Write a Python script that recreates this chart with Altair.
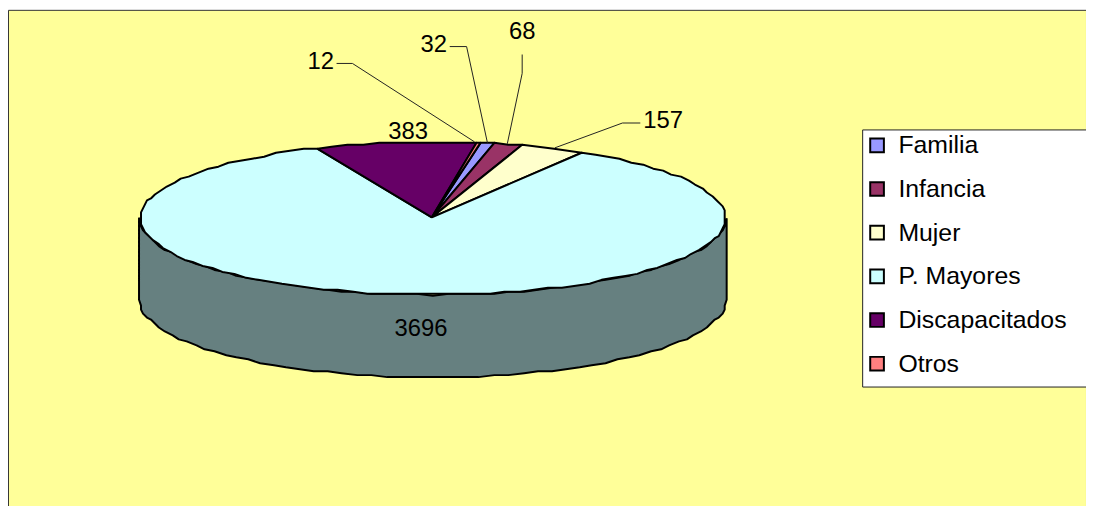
import math
import altair as alt
import pandas as pd

# Data
categories = ["Familia", "Infancia", "Mujer", "P. Mayores", "Discapacitados", "Otros"]
values = [32, 68, 157, 3696, 383, 12]
colors = ["#9999FF", "#993366", "#FFFFCC", "#CCFFFF", "#660066", "#FF8080"]

# Layout of the tilted pie (page pixels)
CX, CY, RX, RY, DEPTH, START = 436, 218, 295, 77, 83, 9.5
W, H = 1086, 500


def rim(deg, dy=0):
    a = math.radians(deg)
    x = CX + RX * math.sin(a)
    y = CY - RY * math.cos(a) + dy
    # the reference outline is coarsely rasterised
    return round(x / 2) * 2, round(y / 2) * 2


total = sum(values)
rows, angle = [], START
for name, v in zip(categories, values):
    sweep = v / total * 360
    n = max(2, int(sweep / 3))
    pts = [(CX - 1, CY - 1)] + [rim(angle + sweep * k / n) for k in range(n + 1)] + [(CX - 1, CY - 1)]
    for i, (x, y) in enumerate(pts):
        rows.append({"name": name, "x": x, "y": y, "i": i})
    angle += sweep
slices = pd.DataFrame(rows)

side_pts = [rim(90 + k * 3) for k in range(61)]
side_pts += [rim(270 - k * 3, DEPTH) for k in range(61)]
side_pts.append(side_pts[0])
side = pd.DataFrame([{"x": x, "y": y, "i": i} for i, (x, y) in enumerate(side_pts)])

# Labels and their leader lines
label_text = ["383", "12", "32", "68", "157", "3696"]
label_x = [411, 323, 437, 526, 668, 424]
label_y = [131, 61, 43, 30, 120, 330]
leader_names = ["12", "32", "68", "157"]
leader_x = [[339, 355, 478], [453, 470, 491], [526, 526, 511], [645, 627, 559]]
leader_y = [[62, 62, 141], [45, 45, 142], [53, 72, 143], [122, 122, 147]]

labels = pd.DataFrame({"t": label_text, "x": label_x, "y": label_y})
leaders = pd.DataFrame(
    [
        {"k": k, "x": x, "y": y, "i": i}
        for k, xs, ys in zip(leader_names, leader_x, leader_y)
        for i, (x, y) in enumerate(zip(xs, ys))
    ]
)
legend_box = pd.DataFrame({"x": [869], "x2": [1110], "y": [129], "y2": [388]})

xs = alt.X("x:Q", axis=None, scale=alt.Scale(domain=[8, 8 + W], nice=False, zero=False))
ys = alt.Y("y:Q", axis=None, scale=alt.Scale(domain=[8 + H, 8], nice=False, zero=False))
fill = alt.Fill(
    "name:N",
    scale=alt.Scale(domain=categories, range=colors),
    sort=categories,
    legend=alt.Legend(
        title=None,
        orient="none",
        legendX=863,
        legendY=124,
        symbolType="square",
        symbolSize=190,
        symbolStrokeColor="black",
        symbolStrokeWidth=2,
        symbolOpacity=1,
        labelFont="Liberation Sans",
        labelFontSize=25,
        labelColor="black",
        rowPadding=18,
        labelOffset=9,
        labelLimit=220,
    ),
)

side_layer = alt.Chart(side).mark_line(
    fill="#668080", stroke="black", strokeWidth=2, strokeJoin="round"
).encode(x=xs, y=ys, order="i:Q")

slice_layer = alt.Chart(slices).mark_line(
    stroke="black", strokeWidth=2, strokeJoin="round"
).encode(x=xs, y=ys, fill=fill, detail="name:N", order="i:Q")

leader_layer = alt.Chart(leaders).mark_line(stroke="#222222", strokeWidth=1).encode(
    x=xs, y=ys, detail="k:N", order="i:Q"
)

label_layer = alt.Chart(labels).mark_text(
    font="Liberation Sans", fontSize=24, color="black"
).encode(x=xs, y=ys, text="t:N")

box_layer = alt.Chart(legend_box).mark_rect(
    fill="white", stroke="#222222", strokeWidth=1
).encode(x=xs, x2="x2:Q", y=ys, y2="y2:Q")

chart = (
    alt.layer(side_layer, slice_layer, leader_layer, label_layer, box_layer)
    .properties(
        width=W,
        height=H,
        padding=0,
        autosize=alt.AutoSizeParams(type="none"),
        background="white",
    )
    .configure_view(fill="#FFFF99", stroke="#333333", strokeWidth=1)
)

chart.save("out.html", embed_options={"renderer": "svg", "actions": False})
